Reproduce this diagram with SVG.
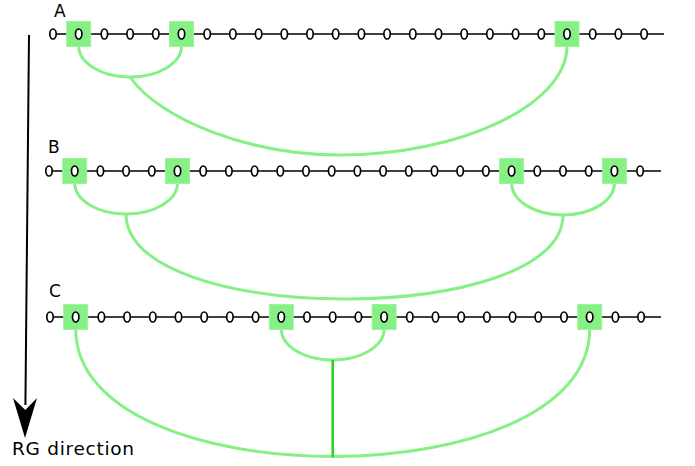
<svg xmlns="http://www.w3.org/2000/svg" width="695" height="466" viewBox="0 0 695 466">
  <style>
    text { font-family: "DejaVu Sans", "Liberation Sans", sans-serif; fill: #000; }
    .lbl { font-size: 17px; }
    .chain { stroke: #000; stroke-width: 1.4; fill: none; stroke-dasharray: 0 3.6 18.5 3.6; }
    .n { fill: #fff; stroke: #000; stroke-width: 1.7; }
    .hl .n { fill: #86f086; }
    .box { fill: #86f086; stroke: #9cf59c; stroke-width: 1; }
    .arc { fill: none; stroke: #86f086; stroke-width: 3; }
    .stem { fill: none; stroke: #22d822; stroke-width: 2.6; }
  </style>
  <defs>
    <ellipse id="node" class="n" cx="0" cy="0" rx="3.2" ry="5"/>
    <rect id="sq" class="box" x="-12" y="-12.5" width="24" height="25"/>
  </defs>
  <rect width="695" height="466" fill="#fff"/>

  <!-- direction arrow -->
  <g id="rg-arrow">
    <line x1="29" y1="35" x2="25.4" y2="405" stroke="#000" stroke-width="2"/>
    <path d="M25,438 L13,398 L25.3,410 L37,398 Z" fill="#000"/>
    <text x="12" y="455" font-size="18.5" textLength="122">RG direction</text>
  </g>

  <!-- row labels -->
  <text class="lbl" x="54" y="16.5">A</text>
  <text class="lbl" x="48" y="153">B</text>
  <text class="lbl" x="49" y="297">C</text>

  <!-- connectors: chains, merge arcs and the stem -->
  <g id="connectors">
    <line class="chain" x1="53" y1="34" x2="664" y2="34"/>
    <line class="chain" x1="49" y1="171" x2="661" y2="171"/>
    <line class="chain" x1="50" y1="317" x2="661" y2="317"/>

    <path class="arc" d="M78.7,46 A51.4,31 0 0 0 181.5,46"/>
    <path class="arc" d="M130,77 C160,120 250,155 340,155 C460,155 567,105 567,46"/>

    <path class="arc" d="M74.7,183 A51.4,31 0 0 0 177.5,183"/>
    <path class="arc" d="M511.6,183 A51.4,32 0 0 0 614.4,183"/>
    <path class="arc" d="M126,214 C126,327 563,327 563,215"/>

    <path class="arc" d="M281.3,329 A51.4,31 0 0 0 384.1,329"/>
    <path class="arc" d="M75.7,329 C75.7,499 589.7,499 589.7,329"/>
    <path class="stem" d="M332.7,360 V457"/>
  </g>

  <!-- row A nodes -->
  <g id="a0"><use href="#node" x="53" y="34"/></g>
  <g id="a1" class="hl"><use href="#sq" x="78.7" y="34"/><use href="#node" x="78.7" y="34"/></g>
  <g id="a2"><use href="#node" x="104.4" y="34"/></g>
  <g id="a3"><use href="#node" x="130.1" y="34"/></g>
  <g id="a4"><use href="#node" x="155.8" y="34"/></g>
  <g id="a5" class="hl"><use href="#sq" x="181.5" y="34"/><use href="#node" x="181.5" y="34"/></g>
  <g id="a6"><use href="#node" x="207.2" y="34"/></g>
  <g id="a7"><use href="#node" x="232.9" y="34"/></g>
  <g id="a8"><use href="#node" x="258.6" y="34"/></g>
  <g id="a9"><use href="#node" x="284.3" y="34"/></g>
  <g id="a10"><use href="#node" x="310" y="34"/></g>
  <g id="a11"><use href="#node" x="335.7" y="34"/></g>
  <g id="a12"><use href="#node" x="361.4" y="34"/></g>
  <g id="a13"><use href="#node" x="387.1" y="34"/></g>
  <g id="a14"><use href="#node" x="412.8" y="34"/></g>
  <g id="a15"><use href="#node" x="438.5" y="34"/></g>
  <g id="a16"><use href="#node" x="464.2" y="34"/></g>
  <g id="a17"><use href="#node" x="489.9" y="34"/></g>
  <g id="a18"><use href="#node" x="515.6" y="34"/></g>
  <g id="a19"><use href="#node" x="541.3" y="34"/></g>
  <g id="a20" class="hl"><use href="#sq" x="567" y="34"/><use href="#node" x="567" y="34"/></g>
  <g id="a21"><use href="#node" x="592.7" y="34"/></g>
  <g id="a22"><use href="#node" x="618.4" y="34"/></g>
  <g id="a23"><use href="#node" x="644.1" y="34"/></g>

  <!-- row B nodes -->
  <g id="b0"><use href="#node" x="49" y="171"/></g>
  <g id="b1" class="hl"><use href="#sq" x="74.7" y="171"/><use href="#node" x="74.7" y="171"/></g>
  <g id="b2"><use href="#node" x="100.4" y="171"/></g>
  <g id="b3"><use href="#node" x="126.1" y="171"/></g>
  <g id="b4"><use href="#node" x="151.8" y="171"/></g>
  <g id="b5" class="hl"><use href="#sq" x="177.5" y="171"/><use href="#node" x="177.5" y="171"/></g>
  <g id="b6"><use href="#node" x="203.2" y="171"/></g>
  <g id="b7"><use href="#node" x="228.9" y="171"/></g>
  <g id="b8"><use href="#node" x="254.6" y="171"/></g>
  <g id="b9"><use href="#node" x="280.3" y="171"/></g>
  <g id="b10"><use href="#node" x="306" y="171"/></g>
  <g id="b11"><use href="#node" x="331.7" y="171"/></g>
  <g id="b12"><use href="#node" x="357.4" y="171"/></g>
  <g id="b13"><use href="#node" x="383.1" y="171"/></g>
  <g id="b14"><use href="#node" x="408.8" y="171"/></g>
  <g id="b15"><use href="#node" x="434.5" y="171"/></g>
  <g id="b16"><use href="#node" x="460.2" y="171"/></g>
  <g id="b17"><use href="#node" x="485.9" y="171"/></g>
  <g id="b18" class="hl"><use href="#sq" x="511.6" y="171"/><use href="#node" x="511.6" y="171"/></g>
  <g id="b19"><use href="#node" x="537.3" y="171"/></g>
  <g id="b20"><use href="#node" x="563" y="171"/></g>
  <g id="b21"><use href="#node" x="588.7" y="171"/></g>
  <g id="b22" class="hl"><use href="#sq" x="614.4" y="171"/><use href="#node" x="614.4" y="171"/></g>
  <g id="b23"><use href="#node" x="640.1" y="171"/></g>

  <!-- row C nodes -->
  <g id="c0"><use href="#node" x="50" y="317"/></g>
  <g id="c1" class="hl"><use href="#sq" x="75.7" y="317"/><use href="#node" x="75.7" y="317"/></g>
  <g id="c2"><use href="#node" x="101.4" y="317"/></g>
  <g id="c3"><use href="#node" x="127.1" y="317"/></g>
  <g id="c4"><use href="#node" x="152.8" y="317"/></g>
  <g id="c5"><use href="#node" x="178.5" y="317"/></g>
  <g id="c6"><use href="#node" x="204.2" y="317"/></g>
  <g id="c7"><use href="#node" x="229.9" y="317"/></g>
  <g id="c8"><use href="#node" x="255.6" y="317"/></g>
  <g id="c9" class="hl"><use href="#sq" x="281.3" y="317"/><use href="#node" x="281.3" y="317"/></g>
  <g id="c10"><use href="#node" x="307" y="317"/></g>
  <g id="c11"><use href="#node" x="332.7" y="317"/></g>
  <g id="c12"><use href="#node" x="358.4" y="317"/></g>
  <g id="c13" class="hl"><use href="#sq" x="384.1" y="317"/><use href="#node" x="384.1" y="317"/></g>
  <g id="c14"><use href="#node" x="409.8" y="317"/></g>
  <g id="c15"><use href="#node" x="435.5" y="317"/></g>
  <g id="c16"><use href="#node" x="461.2" y="317"/></g>
  <g id="c17"><use href="#node" x="486.9" y="317"/></g>
  <g id="c18"><use href="#node" x="512.6" y="317"/></g>
  <g id="c19"><use href="#node" x="538.3" y="317"/></g>
  <g id="c20"><use href="#node" x="564" y="317"/></g>
  <g id="c21" class="hl"><use href="#sq" x="589.7" y="317"/><use href="#node" x="589.7" y="317"/></g>
  <g id="c22"><use href="#node" x="615.4" y="317"/></g>
  <g id="c23"><use href="#node" x="641.1" y="317"/></g>
</svg>
